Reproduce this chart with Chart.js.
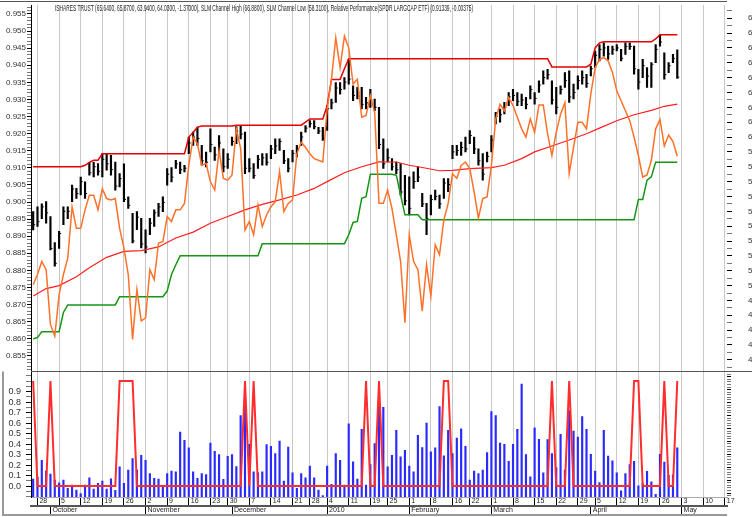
<!DOCTYPE html>
<html lang="en">
<head>
<meta charset="UTF-8">
<title>ISHARES TRUST</title>
<script src="https://cdn.jsdelivr.net/npm/chart.js@4.4.0/dist/chart.umd.min.js"></script>
<style>
    html, body { margin: 0; padding: 0; background: #fff; overflow: hidden; }
    #wrap { width: 752px; height: 517px; overflow: hidden; }
</style>
</head>
<body>
<div id="wrap"><canvas id="chart" width="772" height="517"></canvas></div>
<script>
// trading days shown on the x axis (weekends and market holidays skipped)
const firstDay = '2009-09-25';
const lastDay = '2010-05-17';
const holidays = ['2009-11-26', '2009-12-25', '2010-01-01', '2010-01-18', '2010-02-15', '2010-04-02'];
const monthNames = ['2010', 'February', 'March', 'April', 'May', 'June', 'July', 'August', 'September', 'October', 'November', 'December'];

const headerText = 'ISHARES TRUST (65.6400, 65.8700, 63.9400, 64.0300, -1.37000), SLM Channel High (66.8800), SLM Channel Low (58.3100), Relative Performance(SPDR LARGCAP ETF) (0.91339, -0.00375)';

// daily price bars (right axis)
const priceHigh = [54.98,55.3,55.5,55.65,54.65,52.9,53.65,55.3,55.3,56.76,
    56.54,57.3,56.98,58.3,58.3,58.21,58.88,58.88,58.77,58.32,
    57.54,58.2,55.98,54.87,54.98,54.53,53.76,54.53,55.1,55.54,
    55.98,57.88,57.94,58.43,58.32,58.1,59.99,60.33,60.66,59.44,
    58.99,60.55,59.32,60.1,59.21,58.88,59.99,60.77,60.73,60.33,
    58.55,58.21,58.77,58.88,58.88,59.44,59.88,59.88,59.1,58.55,
    59.1,59.44,60.33,60.77,61.11,61.11,60.66,60.66,62.11,62.56,
    63.67,63.67,64.0,65.23,63.45,63.34,63.34,62.67,63.22,62.56,
    62.0,59.88,59.21,58.55,58.32,58.21,57.43,57.32,57.65,57.99,
    56.21,55.54,56.09,56.43,56.09,57.21,57.21,59.44,59.44,59.66,
    59.99,60.44,59.99,59.21,58.88,58.99,60.1,61.66,61.89,62.33,
    63.0,63.22,63.0,62.89,62.67,63.45,63.0,63.78,64.45,64.56,
    63.78,63.34,63.45,64.34,64.45,63.56,64.12,64.45,64.23,64.78,
    65.79,66.23,66.34,66.12,66.12,66.23,65.9,66.34,66.34,66.12,
    64.56,65.23,64.67,65.01,66.23,66.88,65.67,65.01,65.56,65.87];
const priceLow = [53.75,53.98,54.5,54.2,52.4,51.3,52.5,54.1,54.5,55.65,
    55.87,56.1,55.87,57.43,57.32,57.43,57.32,57.77,57.43,56.43,
    56.65,55.65,55.2,52.87,53.76,52.53,52.2,53.42,53.98,54.65,
    54.98,56.76,56.98,57.88,57.54,57.65,58.88,59.44,59.44,58.1,
    57.99,58.99,58.43,58.88,57.65,57.88,59.44,59.55,59.88,57.54,
    57.65,57.21,57.88,58.1,58.1,58.55,58.88,59.1,58.21,57.65,
    58.32,58.66,59.44,60.33,60.66,60.55,60.22,59.77,60.44,61.89,
    62.33,62.89,63.22,63.56,62.44,62.56,61.89,61.89,62.0,61.78,
    59.21,57.88,58.32,57.77,57.54,56.09,55.43,54.76,56.54,56.99,
    55.32,53.42,54.76,55.76,55.2,55.87,56.32,58.55,58.77,58.77,
    58.99,59.55,58.88,58.1,57.1,58.32,58.99,60.88,61.0,61.55,
    62.11,62.44,62.11,62.11,61.89,62.56,62.22,63.0,63.56,63.89,
    62.22,61.55,62.89,63.34,62.33,62.56,63.22,63.56,63.34,64.12,
    64.67,65.12,65.45,65.23,65.56,65.79,65.12,65.56,65.9,64.23,
    63.22,64.0,63.34,63.34,65.01,66.12,63.89,64.34,65.01,63.94];
const priceClose = [54.1,54.3,55.3,54.9,52.5,51.5,53.5,55.0,55.0,56.5,
    56.2,57.0,56.2,57.6,58.0,57.7,58.5,58.2,57.8,56.7,
    57.2,55.8,55.4,53.0,54.6,52.8,52.6,54.2,54.9,55.3,
    55.6,57.5,57.3,58.2,57.8,57.9,59.6,60.0,59.9,58.4,
    58.3,59.5,58.8,59.6,58.0,58.5,59.7,60.4,60.2,57.9,
    57.9,57.4,58.5,58.6,58.3,59.2,59.4,59.7,58.4,57.9,
    58.9,59.2,60.0,60.6,60.9,60.7,60.4,59.9,61.9,62.3,
    63.3,63.2,63.7,63.9,62.8,63.0,62.2,62.3,62.5,62.0,
    59.5,58.2,58.6,58.0,57.8,56.3,55.7,55.2,57.0,57.3,
    55.5,54.5,55.8,56.0,55.5,56.9,56.8,59.0,59.1,59.3,
    59.2,60.1,59.2,58.4,57.5,58.7,59.8,61.4,61.5,62.0,
    62.7,62.8,62.4,62.5,62.2,63.2,62.6,63.5,64.0,64.2,
    62.5,62.0,63.2,63.8,62.7,63.0,63.8,64.0,63.6,64.6,
    65.5,65.9,66.0,65.6,65.9,66.0,65.3,66.1,66.1,64.6,
    63.7,64.8,64.1,64.9,65.9,66.4,64.2,64.8,65.3,64.03];

// SLM channel high / low (right axis)
const chanHigh = [58.0,58.0,58.0,58.0,58.0,58.0,58.0,58.0,58.0,58.0,
    58.0,58.0,58.1,58.3,58.44,58.44,58.88,58.88,58.88,58.88,
    58.88,58.88,58.88,58.88,58.88,58.88,58.88,58.88,58.88,58.88,
    58.88,58.88,58.88,58.88,58.88,58.88,60.0,60.3,60.66,60.75,
    60.75,60.75,60.75,60.75,60.75,60.75,60.75,60.8,60.8,60.8,
    60.8,60.8,60.8,60.8,60.8,60.8,60.8,60.8,60.8,60.8,
    60.8,60.8,60.8,61.0,61.22,61.22,61.22,61.22,62.1,63.88,
    63.88,63.88,64.6,65.27,65.27,65.27,65.27,65.27,65.27,65.27,
    65.27,65.27,65.27,65.27,65.27,65.27,65.27,65.27,65.27,65.27,
    65.27,65.27,65.27,65.27,65.27,65.27,65.27,65.27,65.27,65.27,
    65.27,65.27,65.27,65.27,65.27,65.27,65.27,65.27,65.27,65.27,
    65.27,65.27,65.27,65.27,65.27,65.27,65.27,65.27,65.27,65.27,
    64.72,64.72,64.72,64.72,64.72,64.72,64.72,64.72,64.72,64.9,
    66.0,66.34,66.41,66.41,66.41,66.41,66.41,66.41,66.41,66.41,
    66.41,66.41,66.41,66.41,66.6,66.88,66.88,66.88,66.88,66.88];
const chanLow = [46.41,46.5,46.9,46.9,46.9,46.9,46.9,48.19,48.7,48.7,
    48.7,48.7,48.7,48.7,48.7,48.7,48.7,48.7,48.7,48.7,
    49.25,49.25,49.25,49.25,49.25,49.25,49.25,49.25,49.25,49.25,
    49.25,49.63,50.75,51.4,52.0,52.0,52.0,52.0,52.0,52.0,
    52.0,52.0,52.0,52.0,52.0,52.0,52.0,52.0,52.0,52.0,
    52.0,52.0,52.0,52.82,52.82,52.82,52.82,52.82,52.82,52.82,
    52.82,52.82,52.82,52.82,52.82,52.82,52.82,52.82,52.82,52.82,
    52.82,52.82,52.82,53.42,54.25,54.32,55.87,55.99,57.5,57.5,
    57.5,57.5,57.5,57.5,57.43,56.1,54.76,54.76,54.76,54.76,
    54.43,54.43,54.43,54.43,54.43,54.43,54.43,54.43,54.43,54.43,
    54.43,54.43,54.43,54.43,54.43,54.43,54.43,54.43,54.43,54.43,
    54.43,54.43,54.43,54.43,54.43,54.43,54.43,54.43,54.43,54.43,
    54.43,54.43,54.43,54.43,54.43,54.43,54.43,54.43,54.43,54.43,
    54.43,54.43,54.43,54.43,54.43,54.43,54.43,54.43,54.43,54.43,
    55.8,55.8,57.1,57.32,58.31,58.31,58.31,58.31,58.31,58.31];

// moving average, read at these day positions (right axis)
const maIdx = [0,3,6,10,13,17,21,25,29,33,37,41,45,49,53,57,61,65,68,72,76,80,84,87,90,94,97,101,106,109,113,116,120,124,128,131,135,139,143,146,149];
const maVal = [49.3,49.8,50.0,50.6,51.2,51.9,52.3,52.35,52.6,53.2,53.6,54.2,54.65,55.1,55.47,55.77,56.1,56.54,57.0,57.6,58.0,58.33,58.32,58.1,57.95,57.73,57.75,57.88,57.94,58.1,58.55,59.0,59.4,59.8,60.22,60.6,61.1,61.5,61.8,62.07,62.22];

// relative performance vs SPDR large cap ETF (left axis)
const relPerf = [0.8758,0.8788,0.8826,0.8802,0.8642,0.8608,0.8729,0.8788,0.8836,0.8986,
    0.8923,0.8923,0.8977,0.9020,0.9020,0.8977,0.9039,0.9010,0.9006,0.9010,
    0.8923,0.8865,0.8788,0.8598,0.8744,0.8652,0.8661,0.8802,0.8773,0.8880,
    0.8884,0.8957,0.8943,0.8977,0.8977,0.8996,0.9107,0.9190,0.9170,0.9107,
    0.9113,0.9059,0.9035,0.9151,0.9069,0.9064,0.9079,0.9214,0.9156,0.8918,
    0.8943,0.8904,0.8991,0.8928,0.8962,0.8986,0.9001,0.9089,0.8972,0.8996,
    0.9006,0.9141,0.9175,0.9160,0.9141,0.9127,0.9122,0.9117,0.9272,0.9359,
    0.9480,0.9393,0.9485,0.9451,0.9345,0.9359,0.9248,0.9253,0.9311,0.9262,
    0.8996,0.8996,0.9035,0.8981,0.8904,0.8826,0.8647,0.8904,0.8826,0.8802,
    0.8681,0.8817,0.8724,0.8875,0.8846,0.8948,0.8996,0.9083,0.9069,0.9107,
    0.9117,0.9098,0.9030,0.8953,0.9010,0.9015,0.9107,0.9243,0.9286,0.9267,
    0.9306,0.9282,0.9248,0.9214,0.9190,0.9243,0.9204,0.9284,0.9284,0.9199,
    0.9136,0.9204,0.9257,0.9291,0.9083,0.9160,0.9233,0.9233,0.9214,0.9316,
    0.9393,0.9417,0.9422,0.9413,0.9379,0.9325,0.9296,0.9267,0.9238,0.9190,
    0.9136,0.9073,0.9079,0.9122,0.9214,0.9241,0.9164,0.9196,0.9177,0.9134];

// lower panel: 0/1 signal (left) and volume bars (right)
const signal = [1,0,0,0,1,0,0,0,0,0, 0,0,0,0,0,0,0,0,0,0,
    1,1,1,1,0,0,0,0,0,0, 0,0,0,0,0,0,0,0,0,0,
    0,0,0,0,0,0,0,0,0,1, 0,1,0,0,0,0,0,0,0,0,
    0,0,0,0,0,0,0,0,0,0, 0,0,0,0,0,0,0,1,0,0,
    1,0,0,0,0,0,0,0,0,0, 0,0,0,0,0,1,1,0,0,0,
    0,0,0,0,0,0,0,0,0,0, 0,0,0,0,0,0,0,0,0,0,
    1,0,0,0,1,0,0,0,0,0, 0,0,0,0,0,0,0,0,0,1,
    1,0,0,0,0,0,1,0,0,1];
const volume = [1039,1128,1769,1346,1231,1000,898,1000,680,808,
    616,474,808,1090,654,872,962,654,1051,600,
    1513,872,1385,1833,1385,1962,1769,1257,1064,1039,
    782,1257,1346,1321,2859,2539,2244,1321,1064,1257,
    1218,2436,2115,1987,1026,1923,1987,1526,3500,4167,
    2385,1321,1282,1321,2372,2308,2026,2513,962,2282,
    1282,680,1257,1090,1539,1090,616,398,1539,833,
    2026,1769,808,3180,1705,1039,2962,808,1603,2410,
    3950,3820,1513,1962,2923,1897,2154,1539,1321,2731,
    2257,3205,2090,2244,3846,1936,2923,2026,2628,2987,
    2308,1000,1346,1257,1385,2064,3654,3500,2436,2385,
    1731,2385,2962,4718,1987,1128,3026,2577,1282,2564,
    2026,1487,2769,1385,3692,2898,2667,3462,2962,2000,
    1350,900,2930,1930,1750,1280,580,1250,1600,1730,
    780,880,1340,930,450,2000,1700,1180,1200,2250];

// build the calendar of trading days
const days = [];
for (let t = Date.parse(firstDay); t <= Date.parse(lastDay); t += 864e5) {
    const d = new Date(t);
    const s = d.toISOString().slice(0, 10);
    if (d.getUTCDay() === 0 || d.getUTCDay() === 6 || holidays.includes(s)) continue;
    days.push(s);
}
const weekday = i => new Date(days[i] + 'T00:00:00Z').getUTCDay();
const weekStart = i => i > 0 && weekday(i) < weekday(i - 1);
const monthStart = i => i > 0 && days[i].slice(5, 7) !== days[i - 1].slice(5, 7);

const maData = maIdx.map((d, k) => ({x: days[d], y: maVal[k]}));
const rangeData = priceHigh.map((h, i) => [priceLow[i], h]);

Chart.defaults.font.family = '"Liberation Sans", Arial, sans-serif';
Chart.defaults.color = '#333';

const minorTick = c => (c.tick && c.tick.label !== '' ? '#000' : '#777');
// keep label overhang from pushing the plot area around
const noPad = s => { s.paddingTop = 0; s.paddingBottom = 0; s.paddingLeft = 0; s.paddingRight = 0; };

const decor = {
    id: 'decor',
    afterDraw(chart) {
        const {ctx, chartArea: a, scales} = chart;
        const mid = Math.round(scales.yLow.top) + 0.5;
        ctx.save();
        ctx.strokeStyle = '#555';
        ctx.lineWidth = 1;
        ctx.beginPath();
        ctx.moveTo(0, 1.5);
        ctx.lineTo(a.right, 1.5);
        ctx.moveTo(a.left, mid);
        ctx.lineTo(chart.width, mid);
        ctx.stroke();
        ctx.strokeStyle = '#999';
        ctx.lineWidth = 2;
        ctx.beginPath();
        ctx.moveTo(3, mid);
        ctx.lineTo(3, 515);
        ctx.lineTo(a.right, 515);
        ctx.stroke();
        ctx.fillStyle = '#222';
        ctx.font = '9px "Liberation Sans", Arial, sans-serif';
        ctx.textBaseline = 'middle';
        ctx.fillText(headerText, 55, 9, 418);
        ctx.restore();
    }
};

new Chart(document.getElementById('chart'), {
    type: 'line',
    data: {
        labels: days,
        datasets: [
            {type: 'line', label: 'Signal', data: signal, yAxisID: 'yLow', borderColor: 'rgb(255,45,45)', borderWidth: 2, pointRadius: 0, order: 0},
            {type: 'line', label: 'Relative Performance', data: relPerf, yAxisID: 'yRel', borderColor: 'rgb(255,112,40)', borderWidth: 1.5, pointRadius: 0, order: 1},
            {type: 'line', label: 'SLM Channel High', data: chanHigh, yAxisID: 'yP', borderColor: 'rgb(230,0,0)', borderWidth: 1.5, pointRadius: 0, order: 2},
            {type: 'line', label: 'SLM Channel Low', data: chanLow, yAxisID: 'yP', borderColor: 'rgb(20,150,20)', borderWidth: 1.5, pointRadius: 0, order: 2},
            {type: 'line', label: 'Average', data: maData, yAxisID: 'yP', borderColor: 'rgb(255,30,30)', borderWidth: 1.2, pointRadius: 0, spanGaps: true, order: 3},
            {type: 'line', label: 'Close', data: priceClose, yAxisID: 'yP', showLine: false, pointStyle: 'dash', pointRadius: 2, pointBorderColor: '#000', pointBorderWidth: 1, order: 4},
            {type: 'bar', label: 'Range', data: rangeData, yAxisID: 'yP', backgroundColor: '#000', barThickness: 1.5, grouped: false, order: 5},
            {type: 'bar', label: 'Volume', data: volume, yAxisID: 'yVol', backgroundColor: '#2a2aff', barThickness: 1.5, grouped: false, order: 6}
        ]
    },
    options: {
        responsive: false,
        animation: false,
        events: [],
        layout: {padding: {top: 2, bottom: 2, left: 0, right: 0}},
        plugins: {legend: {display: false}, tooltip: {enabled: false}},
        scales: {
            x: {
                type: 'category', position: 'bottom', offset: true, weight: 0,
                grid: {offset: false, color: '#c8c8c8', lineWidth: 1, tickColor: '#000', tickLength: 9},
                border: {display: true, color: '#aaa'},
                ticks: {
                    autoSkip: false, maxRotation: 0, minRotation: 0, align: 'start', padding: -9,
                    font: {size: 7}, color: '#222',
                    callback: v => (weekStart(v) ? ' ' + Number(days[v].slice(8)) : null)
                },
                afterFit: s => { s.height = 9; noPad(s); }
            },
            x2: {
                type: 'category', labels: days, position: 'bottom', offset: true, weight: 1,
                grid: {offset: false, drawOnChartArea: false, tickColor: '#000', tickLength: 9},
                border: {display: true, color: '#555', width: 2},
                ticks: {
                    autoSkip: false, maxRotation: 0, minRotation: 0, align: 'start', padding: -9,
                    font: {size: 7}, color: '#222',
                    callback: v => (monthStart(v) ? ' ' + monthNames[Number(days[v].slice(5, 7)) - 1] : null)
                },
                afterFit: s => { s.height = 9; noPad(s); }
            },
            yRel: {
                type: 'linear', position: 'left', stack: 'L', stackWeight: 368, weight: 2,
                min: 0.85064, max: 0.95762,
                grid: {drawOnChartArea: false, tickLength: 4, tickColor: minorTick},
                border: {display: true, color: '#000'},
                ticks: {autoSkip: false, padding: 1, font: {size: 8},
                    callback: v => (Math.round(v * 1000) % 5 === 0 ? v.toFixed(3) : '')},
                afterBuildTicks: s => { s.ticks = []; for (let k = 851; k <= 957; k++) s.ticks.push({value: k / 1000}); },
                afterFit: s => { s.width = 31; noPad(s); }
            },
            yLow: {
                type: 'linear', position: 'left', stack: 'L', stackWeight: 127, weight: 1,
                min: -0.104, max: 1.098,
                grid: {drawOnChartArea: false, tickLength: 5, tickColor: minorTick},
                border: {display: true, color: '#000'},
                ticks: {autoSkip: false, padding: 5, font: {size: 9},
                    callback: v => { const k = Math.round(v * 20); return k % 2 === 0 && k >= 0 && k <= 18 ? v.toFixed(1) : ''; }},
                afterBuildTicks: s => { s.ticks = []; for (let k = -2; k <= 21; k++) s.ticks.push({value: k / 20}); },
                afterFit: s => { s.width = 31; noPad(s); }
            },
            yP: {
                type: 'linear', position: 'right', stack: 'R', stackWeight: 368, weight: 1,
                min: 44.265, max: 68.889,
                grid: {drawOnChartArea: false, tickLength: 5, tickColor: minorTick},
                border: {display: false},
                ticks: {autoSkip: false, padding: 16, font: {size: 8},
                    callback: v => (Number.isInteger(v) ? String(v) : '')},
                afterBuildTicks: s => { s.ticks = []; for (let k = 89; k <= 137; k++) s.ticks.push({value: k / 2}); },
                afterFit: s => { s.width = 45; noPad(s); }
            },
            yVol: {
                type: 'linear', position: 'right', stack: 'R', stackWeight: 127, weight: 2,
                min: 346, max: 5231,
                grid: {drawOnChartArea: false, tickLength: 4, tickColor: minorTick},
                border: {display: false},
                ticks: {autoSkip: false, padding: 1.5, crossAlign: 'far', font: {size: 9},
                    callback: v => (v % 500 === 0 && v >= 500 && v <= 5000 ? String(v) : '')},
                afterBuildTicks: s => { s.ticks = []; for (let k = 4; k <= 52; k++) s.ticks.push({value: k * 100}); },
                afterFit: s => { s.width = 45; noPad(s); }
            }
        }
    },
    plugins: [decor]
});
</script>
</body>
</html>
